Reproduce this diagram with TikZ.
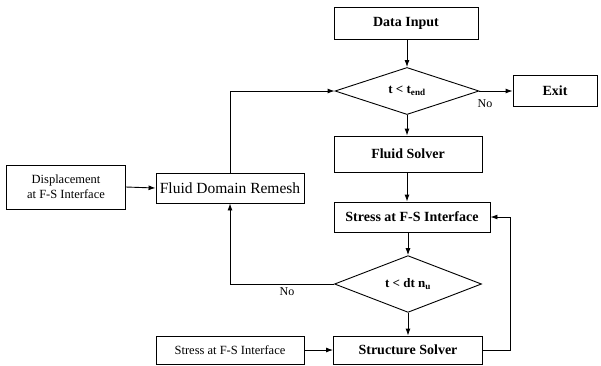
\documentclass[tikz,border=0pt]{standalone}
\usepackage{fontspec}
\setmainfont{Liberation Serif}
\usetikzlibrary{positioning, arrows.meta, shapes.geometric}
\tikzset{stepbox/.style={draw, line width=0.9pt, inner sep=2pt, align=center, font=\fontsize{14}{16}\selectfont\bfseries}}
\tikzset{inbox/.style={draw, line width=0.9pt, inner sep=2pt, align=center, font=\fontsize{12.5}{15}\selectfont}}
\tikzset{test/.style={draw, diamond, line width=0.9pt, inner sep=0pt, font=\fontsize{13}{15}\selectfont\bfseries}}
\tikzset{arr/.style={draw, line width=0.9pt, -{Latex[length=7pt, width=5pt]}}}
\tikzset{lbl/.style={font=\fontsize{12}{14}\selectfont}}

\begin{document}
\begin{tikzpicture}[x=1pt, y=-1pt]
       \useasboundingbox (0,0) rectangle (601,365);
       % main column
       \node[stepbox, minimum width=144pt, minimum height=32pt] (input) at (406,23) {Data Input};
       \node[test, minimum width=144pt, minimum height=44pt] (tend) at (407,91) {t < t\textsubscript{end}};
       \node[stepbox, minimum width=84pt, minimum height=31pt] (exit) at (555,91) {Exit};
       \node[stepbox, minimum width=148pt, minimum height=36pt] (fluid) at (408,154) {Fluid Solver};
       \node[stepbox, minimum width=156pt, minimum height=30pt] (stress) at (412,217) {Stress at F-S Interface};
       \node[test, minimum width=147pt, minimum height=44pt] (dtn) at (408,284) {t < dt n\textsubscript{u}};
       \node[stepbox, minimum width=149pt, minimum height=28pt] (struct) at (408,350) {Structure Solver};
       % left side
       \node[inbox, minimum width=148pt, minimum height=30pt, font=\fontsize{15.5}{17}\selectfont] (remesh) at (230,188) {Fluid Domain Remesh};
       \node[inbox, minimum width=119pt, minimum height=44pt] (disp) at (66,187) {Displacement\\at F-S Interface};
       \node[inbox, minimum width=148pt, minimum height=28pt] (stressin) at (230,350) {Stress at F-S Interface};

       \draw[arr] (input.south -| tend.north) -- (tend.north);
       \draw[arr] (tend.east) -- (exit.west);
       \node[lbl] (no1) at (485,104) {No};
       \draw[arr] (tend.south) -- (tend.south |- fluid.north);
       \draw[arr] (fluid.south -| tend.south) -- (stress.north -| tend.south);
       \draw[arr] (stress.south -| dtn.north) -- (dtn.north);
       \draw[arr] (dtn.south) -- (struct.north);
       \draw[arr] (struct.east) -- ++(27,0) |- (stress.east);
       \draw[arr] (dtn.west) -| (remesh.south);
       \node[lbl] (no2) at (287,292) {No};
       \draw[arr] (remesh.north) |- (tend.west);
       \draw[arr] (disp.east) -- (remesh.west);
       \draw[arr] (stressin.east) -- (struct.west);
   \end{tikzpicture}
\end{document}
